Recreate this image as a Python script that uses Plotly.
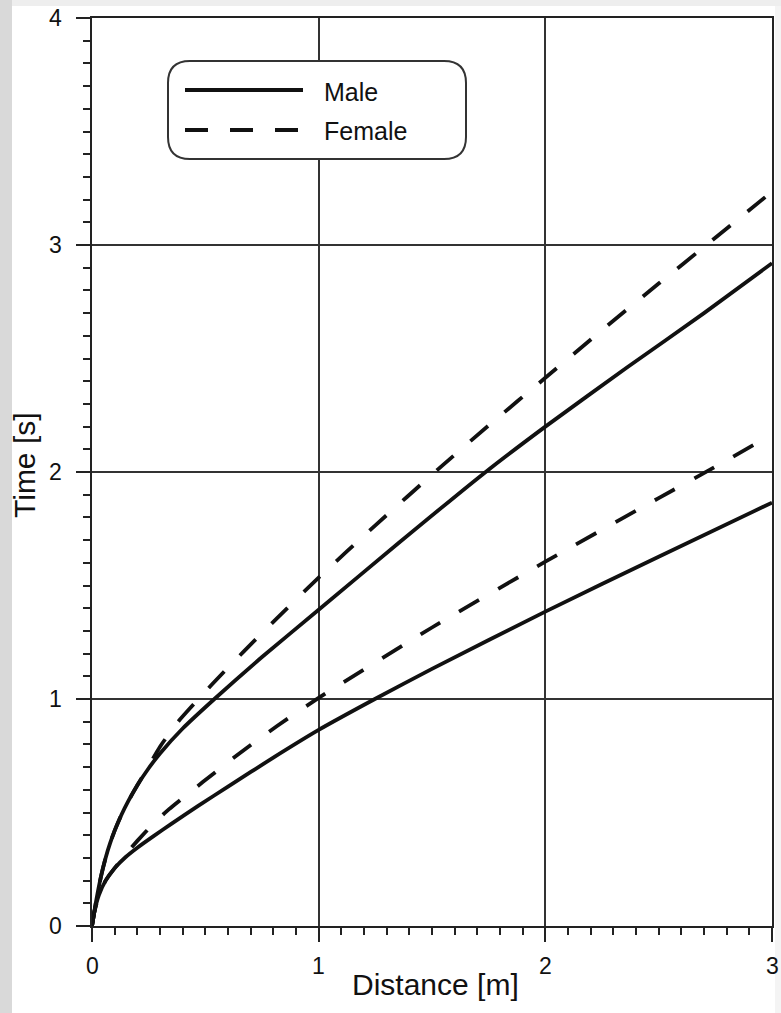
import plotly.graph_objects as go

# ---- data ----
male_upper_x = [0, 0.02, 0.04, 0.06, 0.08, 0.10, 0.13, 0.16, 0.20, 0.25, 0.30, 0.40, 0.54, 0.75, 1.0, 1.35, 1.73, 2.0, 2.36, 2.7, 3.0]
male_upper_y = [0, 0.12, 0.22, 0.30, 0.365, 0.42, 0.49, 0.55, 0.62, 0.695, 0.76, 0.87, 1.0, 1.185, 1.393, 1.685, 1.995, 2.2, 2.46, 2.70, 2.92]

female_upper_x = [0, 0.02, 0.04, 0.06, 0.08, 0.10, 0.13, 0.16, 0.20, 0.25, 0.30, 0.38, 0.53, 0.67, 0.81, 1.0, 1.25, 1.53, 1.75, 2.0, 2.25, 2.5, 2.717, 3.0]
female_upper_y = [0, 0.12, 0.22, 0.30, 0.365, 0.42, 0.49, 0.55, 0.62, 0.705, 0.79, 0.90, 1.065, 1.21, 1.35, 1.535, 1.765, 2.015, 2.205, 2.415, 2.625, 2.83, 3.005, 3.235]

male_lower_x = [0, 0.01, 0.03, 0.06, 0.10, 0.15, 0.20, 0.27, 0.35, 0.47, 0.60, 0.80, 1.0, 1.248, 1.5, 2.0, 2.5, 3.0]
male_lower_y = [0, 0.06, 0.135, 0.20, 0.255, 0.305, 0.345, 0.395, 0.45, 0.53, 0.614, 0.742, 0.864, 1.0, 1.133, 1.385, 1.627, 1.865]

female_lower_x = [0, 0.01, 0.03, 0.06, 0.10, 0.15, 0.20, 0.27, 0.34, 0.49, 0.65, 0.815, 1.0, 1.5, 2.0, 2.5, 2.717, 3.0]
female_lower_y = [0, 0.06, 0.135, 0.20, 0.255, 0.318, 0.375, 0.45, 0.515, 0.635, 0.76, 0.88, 1.005, 1.315, 1.605, 1.885, 2.005, 2.165]

x_ticks = [0, 1, 2, 3]
y_ticks = [0, 1, 2, 3, 4]
x_tick_labels = ["0", "1", "2", "3"]
y_tick_labels = ["0", "1", "2", "3", "4"]
legend_labels = ["Male", "Female"]
x_title = "Distance [m]"
y_title = "Time [s]"

FONT = "Liberation Sans, Arial, sans-serif"
INK = "#111111"
DASH = "23px,22px"

W, H = 781, 1013
L, R, T, B = 92, 9, 18, 87
PW, PH = W - L - R, H - T - B


def px(xp):
    return (xp - L) / PW


def py(yp):
    return (H - B - yp) / PH


fig = go.Figure()
curves = [
    (male_upper_x, male_upper_y, "solid"),
    (male_lower_x, male_lower_y, "solid"),
    (female_upper_x, female_upper_y, DASH),
    (female_lower_x, female_lower_y, DASH),
]
for xs, ys, dash in curves:
    fig.add_trace(go.Scatter(
        x=xs, y=ys, mode="lines",
        line=dict(color=INK, width=3.8, dash=dash, shape="spline", smoothing=0.5),
        showlegend=False, hoverinfo="skip",
    ))

axis_common = dict(
    ticks="outside", ticklen=14, tickwidth=2, tickcolor="#222",
    showline=True, linecolor="#222", linewidth=2, mirror=True,
    showgrid=True, gridcolor="#333", gridwidth=1.8, zeroline=False,
    showticklabels=False,
    minor=dict(dtick=0.1, ticks="outside", ticklen=7, tickwidth=2,
               tickcolor="#222", showgrid=False),
)

fig.update_xaxes(range=[0, 3], tickvals=x_ticks, **axis_common)
fig.update_yaxes(range=[0, 4], tickvals=y_ticks, **axis_common)

shapes = []
# grey strips of the page background
shapes.append(dict(type="rect", xref="paper", yref="paper", x0=px(0), x1=px(W), y0=py(0), y1=py(6),
                   fillcolor="#eeeeee", line=dict(width=0), layer="below"))
shapes.append(dict(type="rect", xref="paper", yref="paper", x0=px(0), x1=px(12), y0=py(H), y1=py(0),
                   fillcolor="#d9d9d9", line=dict(width=0), layer="below"))
shapes.append(dict(type="rect", xref="paper", yref="paper", x0=px(775), x1=px(W), y0=py(H), y1=py(6),
                   fillcolor="#f4f4f4", line=dict(width=0), layer="below"))

# rounded legend box
bx0, bx1, by0, by1, r = 168, 466, 61, 159, 22
path = (
    f"M {px(bx0 + r)},{py(by0)} L {px(bx1 - r)},{py(by0)} "
    f"Q {px(bx1)},{py(by0)} {px(bx1)},{py(by0 + r)} "
    f"L {px(bx1)},{py(by1 - r)} Q {px(bx1)},{py(by1)} {px(bx1 - r)},{py(by1)} "
    f"L {px(bx0 + r)},{py(by1)} Q {px(bx0)},{py(by1)} {px(bx0)},{py(by1 - r)} "
    f"L {px(bx0)},{py(by0 + r)} Q {px(bx0)},{py(by0)} {px(bx0 + r)},{py(by0)} Z"
)
shapes.append(dict(type="path", xref="paper", yref="paper", path=path,
                   fillcolor="white", line=dict(color="#333", width=2), layer="above"))
# legend samples
shapes.append(dict(type="line", xref="paper", yref="paper", x0=px(185), x1=px(303), y0=py(90), y1=py(90),
                   line=dict(color=INK, width=4), layer="above"))
shapes.append(dict(type="line", xref="paper", yref="paper", x0=px(185), x1=px(303), y0=py(130), y1=py(130),
                   line=dict(color=INK, width=4, dash=DASH), layer="above"))

tick_font = dict(family=FONT, size=23, color="#111")
annotations = []
# tick labels, placed on the axes' own scales
for v, t in zip(x_ticks, x_tick_labels):
    annotations.append(dict(text=t, xref="x", yref="paper", x=v, y=py(966),
                            xanchor="center", yanchor="middle", showarrow=False, font=tick_font))
for v, t in zip(y_ticks, y_tick_labels):
    annotations.append(dict(text=t, xref="paper", yref="y", x=px(64), y=v,
                            xanchor="right", yanchor="middle", showarrow=False, font=tick_font))
# legend texts
for label, yy in zip(legend_labels, [92, 131]):
    annotations.append(dict(text=label, xref="paper", yref="paper", x=px(322), y=py(yy),
                            xanchor="left", yanchor="middle", showarrow=False,
                            font=dict(family=FONT, size=25, color="#111")))
# axis titles
annotations.append(dict(text=x_title, xref="paper", yref="paper", x=px(435), y=py(985),
                        xanchor="center", yanchor="middle", showarrow=False,
                        font=dict(family=FONT, size=30, color="#111")))
annotations.append(dict(text=y_title, xref="paper", yref="paper", x=px(24), y=py(465),
                        xanchor="center", yanchor="middle", showarrow=False, textangle=-90,
                        font=dict(family=FONT, size=30, color="#111")))

fig.update_layout(
    width=W, height=H,
    margin=dict(l=L, r=R, t=T, b=B, autoexpand=False),
    paper_bgcolor="white", plot_bgcolor="white",
    shapes=shapes, annotations=annotations,
    showlegend=False,
)

fig.write_html("out.html", config={"displayModeBar": False},
               post_script="document.body.style.margin='0px';document.body.style.overflow='hidden';")
